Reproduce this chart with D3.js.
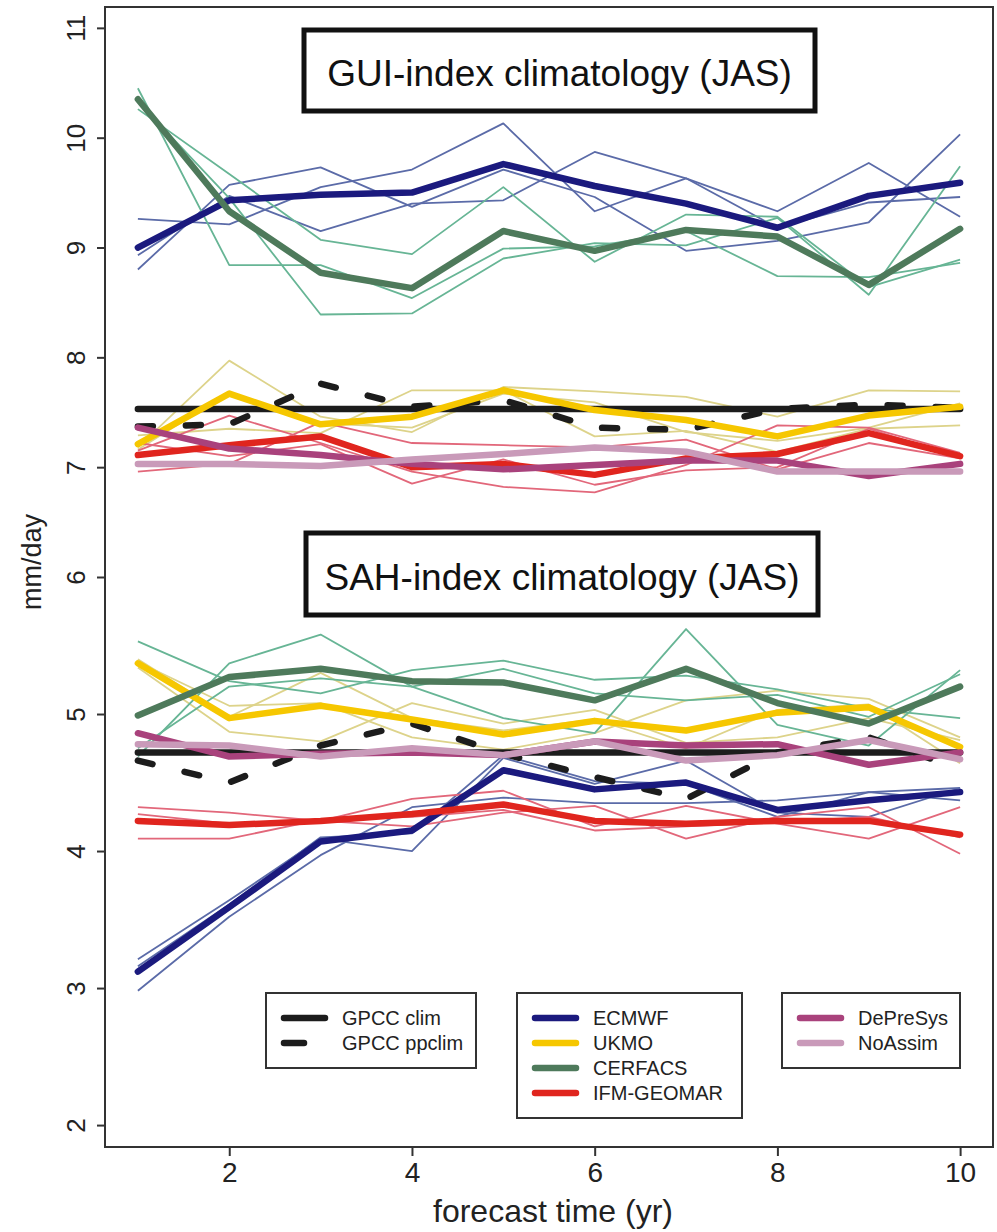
<!DOCTYPE html>
<html>
<head>
<meta charset="utf-8">
<script src="https://cdn.jsdelivr.net/npm/d3@7"></script>
<style>
  html, body { margin: 0; padding: 0; background: #fff; overflow: hidden; }
  svg { display: block; font-family: "Liberation Sans", Arial, sans-serif; }
  .frame { fill: none; stroke: #333; stroke-width: 2; }
  .axis path.domain { display: none; }
  .axis line { stroke: #333; stroke-width: 2; }
  .axis text { fill: #222; }
  .thin { fill: none; stroke-width: 1.8; stroke-linejoin: round; }
  .thick { fill: none; stroke-width: 6.5; stroke-linejoin: round; stroke-linecap: round; }
  .title-box { fill: #fff; stroke: #111; stroke-width: 5; }
  .legend-box { fill: #fff; stroke: #333; stroke-width: 2; }
</style>
</head>
<body>
<script>
const width = 997,
  height = 1232,
  margin = { top: 7, right: 4, bottom: 85, left: 105 },
  innerWidth = width - margin.left - margin.right,
  innerHeight = height - margin.top - margin.bottom;

// forecast years and ticks
const years = [1, 2, 3, 4, 5, 6, 7, 8, 9, 10];
const xTicks = [2, 4, 6, 8, 10];
const yTicks = [2, 3, 4, 5, 6, 7, 8, 9, 10, 11];

// GUI-index (upper group)
const guiGpccClim = [7.53, 7.53, 7.53, 7.53, 7.53, 7.53, 7.53, 7.53, 7.53, 7.53];
const guiGpccPpclim = [7.37, 7.39, 7.76, 7.55, 7.61, 7.36, 7.34, 7.53, 7.57, 7.54];
const guiEcmwf = [9.0, 9.43, 9.48, 9.5, 9.76, 9.56, 9.4, 9.18, 9.47, 9.59];
const guiEcmwfMembers = [
  [9.26, 9.21, 9.55, 9.71, 10.13, 9.33, 9.63, 9.18, 9.41, 9.46],
  [8.8, 9.57, 9.73, 9.37, 9.71, 9.46, 8.97, 9.06, 9.23, 10.03],
  [8.93, 9.47, 9.15, 9.4, 9.43, 9.87, 9.63, 9.33, 9.77, 9.28],
];
const guiUkmo = [7.21, 7.67, 7.39, 7.46, 7.7, 7.52, 7.43, 7.28, 7.47, 7.55];
const guiUkmoMembers = [
  [7.18, 7.97, 7.46, 7.32, 7.73, 7.69, 7.64, 7.46, 7.7, 7.69],
  [7.29, 7.35, 7.31, 7.7, 7.7, 7.28, 7.33, 7.14, 7.35, 7.38],
  [7.16, 7.68, 7.4, 7.36, 7.67, 7.59, 7.32, 7.24, 7.36, 7.58],
];
const guiCerfacs = [10.35, 9.33, 8.77, 8.63, 9.15, 8.97, 9.16, 9.1, 8.66, 9.17];
const guiCerfacsMembers = [
  [10.26, 9.67, 9.07, 8.94, 9.55, 8.87, 9.3, 9.28, 8.64, 8.89],
  [10.45, 8.84, 8.84, 8.54, 8.99, 9.01, 9.15, 8.74, 8.73, 8.86],
  [10.33, 9.45, 8.39, 8.4, 8.9, 9.04, 9.02, 9.27, 8.57, 9.74],
];
const guiIfm = [7.11, 7.2, 7.28, 7.0, 7.03, 6.93, 7.08, 7.12, 7.31, 7.1];
const guiIfmMembers = [
  [7.15, 7.47, 7.22, 6.96, 6.82, 6.77, 7.02, 7.38, 7.36, 7.13],
  [6.96, 7.03, 7.41, 7.22, 7.2, 7.18, 7.25, 6.98, 7.22, 7.08],
  [7.22, 7.1, 7.21, 6.85, 7.07, 6.84, 6.97, 7.0, 7.35, 7.09],
];
const guiDepresys = [7.36, 7.17, 7.11, 7.03, 6.98, 7.02, 7.06, 7.06, 6.92, 7.03];
const guiNoassim = [7.03, 7.03, 7.01, 7.07, 7.12, 7.18, 7.14, 6.96, 6.96, 6.96];

// SAH-index (lower group)
const sahGpccClim = [4.72, 4.72, 4.72, 4.72, 4.72, 4.72, 4.72, 4.72, 4.72, 4.72];
const sahGpccPpclim = [4.66, 4.5, 4.77, 4.93, 4.71, 4.54, 4.38, 4.72, 4.83, 4.6];
const sahEcmwf = [3.12, 3.59, 4.07, 4.15, 4.59, 4.45, 4.5, 4.3, 4.37, 4.43];
const sahEcmwfMembers = [
  [3.21, 3.64, 4.09, 4.0, 4.68, 4.49, 4.66, 4.28, 4.25, 4.46],
  [2.98, 3.52, 3.97, 4.32, 4.39, 4.35, 4.35, 4.37, 4.43, 4.37],
  [3.16, 3.61, 4.1, 4.13, 4.7, 4.51, 4.49, 4.25, 4.43, 4.46],
];
const sahUkmo = [5.37, 4.97, 5.06, 4.96, 4.85, 4.95, 4.88, 5.01, 5.05, 4.76];
const sahUkmoMembers = [
  [5.38, 5.06, 5.08, 4.83, 4.74, 4.86, 5.1, 5.17, 5.11, 4.83],
  [5.34, 4.87, 4.8, 5.08, 4.93, 5.03, 4.79, 4.83, 4.97, 4.81],
  [5.4, 4.98, 5.3, 4.97, 4.88, 4.96, 4.75, 5.03, 5.07, 4.64],
];
const sahCerfacs = [4.99, 5.27, 5.33, 5.24, 5.23, 5.1, 5.33, 5.08, 4.93, 5.2];
const sahCerfacsMembers = [
  [5.53, 5.24, 5.15, 5.32, 5.39, 5.25, 5.28, 5.18, 5.04, 4.97],
  [4.69, 5.37, 5.58, 5.2, 4.97, 4.86, 5.62, 4.92, 4.77, 5.32],
  [4.75, 5.2, 5.26, 5.2, 5.33, 5.15, 5.1, 5.14, 4.98, 5.29],
];
const sahIfm = [4.22, 4.19, 4.22, 4.27, 4.34, 4.22, 4.2, 4.22, 4.22, 4.12];
const sahIfmMembers = [
  [4.32, 4.28, 4.22, 4.18, 4.28, 4.33, 4.09, 4.25, 4.32, 3.98],
  [4.27, 4.2, 4.22, 4.38, 4.44, 4.18, 4.33, 4.2, 4.09, 4.32],
  [4.09, 4.09, 4.23, 4.25, 4.3, 4.15, 4.18, 4.21, 4.25, 4.1],
];
const sahDepresys = [4.86, 4.69, 4.71, 4.72, 4.7, 4.8, 4.77, 4.78, 4.63, 4.72];
const sahNoassim = [4.78, 4.77, 4.69, 4.75, 4.7, 4.8, 4.66, 4.7, 4.81, 4.67];

// legend labels
const legendObs = ["GPCC clim", "GPCC ppclim"];
const legendModels = ["ECMWF", "UKMO", "CERFACS", "IFM-GEOMAR"];
const legendExtra = ["DePreSys", "NoAssim"];

const colors = {
  "GPCC clim": "#1c1c1c",
  "GPCC ppclim": "#1c1c1c",
  ECMWF: "#1b1a7e",
  UKMO: "#f6c700",
  CERFACS: "#4e7a5b",
  "IFM-GEOMAR": "#e0251e",
  DePreSys: "#a9427c",
  NoAssim: "#c99ab9",
};
const memberColors = {
  ECMWF: "#5b6ba8",
  UKMO: "#ddd38a",
  CERFACS: "#67b595",
  "IFM-GEOMAR": "#e2677a",
};

const svg = d3
  .select("body")
  .append("svg")
  .attr("width", width)
  .attr("height", height);

const g = svg
  .append("g")
  .attr("transform", `translate(${margin.left},${margin.top})`);

const x = d3.scaleLinear().domain([0.64, 10.36]).range([0, innerWidth]);

// the two halves of the figure were stretched differently: piecewise scale
const y = d3
  .scaleLinear()
  .domain([1.84, 6, 11.19])
  .range([innerHeight, 570, 0]);

const line = d3
  .line()
  .x((d, i) => x(years[i]))
  .y((d) => y(d));

const panels = [
  {
    clim: guiGpccClim, ppclim: guiGpccPpclim,
    models: [
      ["ECMWF", guiEcmwf, guiEcmwfMembers],
      ["UKMO", guiUkmo, guiUkmoMembers],
      ["CERFACS", guiCerfacs, guiCerfacsMembers],
      ["IFM-GEOMAR", guiIfm, guiIfmMembers],
      ["DePreSys", guiDepresys, []],
      ["NoAssim", guiNoassim, []],
    ],
  },
  {
    clim: sahGpccClim, ppclim: sahGpccPpclim,
    models: [
      ["ECMWF", sahEcmwf, sahEcmwfMembers],
      ["UKMO", sahUkmo, sahUkmoMembers],
      ["CERFACS", sahCerfacs, sahCerfacsMembers],
      ["IFM-GEOMAR", sahIfm, sahIfmMembers],
      ["DePreSys", sahDepresys, []],
      ["NoAssim", sahNoassim, []],
    ],
  },
];

// thin ensemble members first
panels.forEach((p) => {
  p.models.forEach(([name, , members]) => {
    g.selectAll(null)
      .data(members)
      .enter()
      .append("path")
      .attr("class", "thin")
      .attr("stroke", memberColors[name])
      .attr("d", line);
  });
});

// observations
panels.forEach((p) => {
  g.append("path")
    .attr("class", "thick")
    .attr("stroke", colors["GPCC clim"])
    .attr("stroke-linecap", "butt")
    .attr("d", line(p.clim));
  g.append("path")
    .attr("class", "thick")
    .attr("stroke", colors["GPCC ppclim"])
    .attr("stroke-dasharray", "15,33")
    .attr("d", line(p.ppclim));
});

// ensemble means
panels.forEach((p) => {
  p.models.forEach(([name, mean]) => {
    g.append("path")
      .attr("class", "thick")
      .attr("stroke", colors[name])
      .attr("d", line(mean));
  });
});

// axes
const yAxis = g
  .append("g")
  .attr("class", "axis")
  .call(d3.axisLeft(y).tickValues(yTicks).tickSize(8).tickFormat(d3.format("d")));
yAxis
  .selectAll("text")
  .attr("x", null)
  .attr("dy", null)
  .attr("text-anchor", "middle")
  .attr("transform", "translate(-20,0) rotate(-90)")
  .style("font-size", "26px");

const xAxis = g
  .append("g")
  .attr("class", "axis")
  .attr("transform", `translate(0,${innerHeight})`)
  .call(d3.axisBottom(x).tickValues(xTicks).tickSize(9));
xAxis.selectAll("text").attr("y", 15).style("font-size", "28px");

g.append("rect")
  .attr("class", "frame")
  .attr("width", innerWidth)
  .attr("height", innerHeight);

svg
  .append("text")
  .attr("x", 553)
  .attr("y", 1222)
  .attr("text-anchor", "middle")
  .style("font-size", "32px")
  .attr("fill", "#222")
  .text("forecast time (yr)");

svg
  .append("text")
  .attr("transform", "translate(41,562) rotate(-90)")
  .attr("text-anchor", "middle")
  .style("font-size", "27px")
  .attr("fill", "#222")
  .text("mm/day");

// panel titles in boxes
const titles = [
  { text: "GUI-index climatology (JAS)", x0: 304, y0: 30, x1: 815, y1: 111, base: 86 },
  { text: "SAH-index climatology (JAS)", x0: 306, y0: 533, x1: 818, y1: 615, base: 590 },
];
titles.forEach((t) => {
  svg
    .append("rect")
    .attr("class", "title-box")
    .attr("x", t.x0)
    .attr("y", t.y0)
    .attr("width", t.x1 - t.x0)
    .attr("height", t.y1 - t.y0);
  svg
    .append("text")
    .attr("x", (t.x0 + t.x1) / 2)
    .attr("y", t.base)
    .attr("text-anchor", "middle")
    .style("font-size", "37px")
    .attr("fill", "#111")
    .text(t.text);
});

// legends
const legends = [
  { items: legendObs, x0: 266, x1: 476, y1: 1068 },
  { items: legendModels, x0: 517, x1: 742, y1: 1118 },
  { items: legendExtra, x0: 782, x1: 960, y1: 1068 },
];
legends.forEach((lg) => {
  const lgG = svg.append("g");
  lgG
    .append("rect")
    .attr("class", "legend-box")
    .attr("x", lg.x0)
    .attr("y", 993)
    .attr("width", lg.x1 - lg.x0)
    .attr("height", lg.y1 - 993);
  lg.items.forEach((name, i) => {
    const yy = 1018 + i * 25;
    lgG
      .append("line")
      .attr("x1", lg.x0 + 18)
      .attr("x2", name === "GPCC ppclim" ? lg.x0 + 38 : lg.x0 + 59)
      .attr("y1", yy)
      .attr("y2", yy)
      .attr("stroke", colors[name])
      .attr("stroke-width", 6.5)
      .attr("stroke-linecap", "round");
    lgG
      .append("text")
      .attr("x", lg.x0 + 76)
      .attr("y", yy + 7)
      .style("font-size", "20px")
      .attr("fill", "#222")
      .text(name);
  });
});
</script>
</body>
</html>
